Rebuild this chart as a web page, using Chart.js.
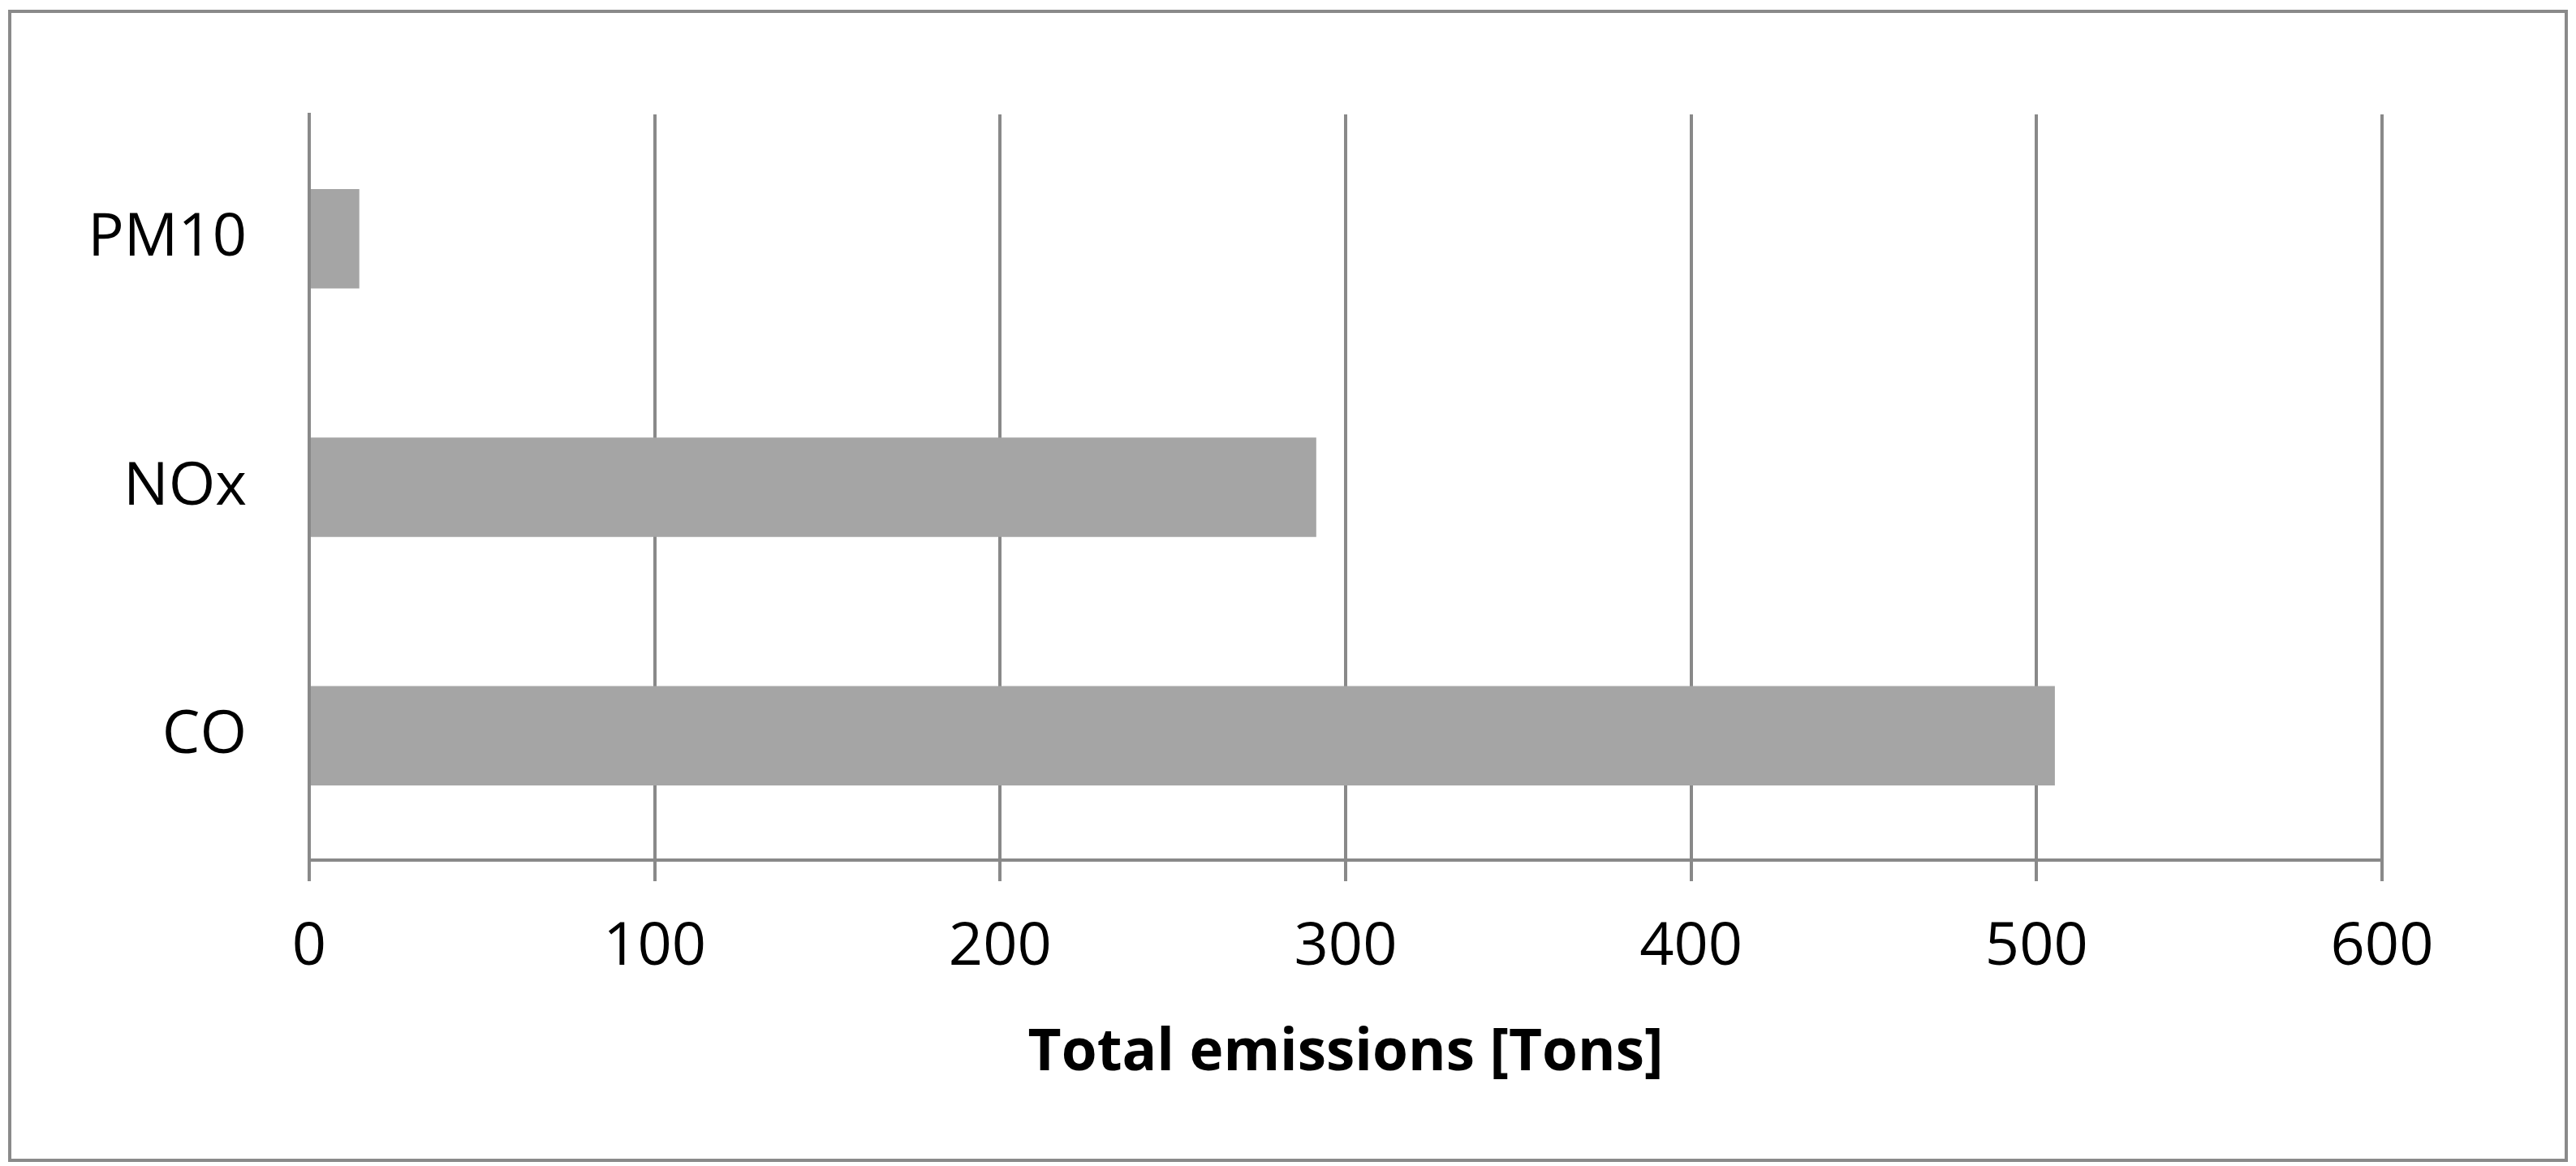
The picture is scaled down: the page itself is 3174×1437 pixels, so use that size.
<!DOCTYPE html>
<html>
<head>
<meta charset="utf-8">
<script src="https://cdn.jsdelivr.net/npm/chart.js@4/dist/chart.umd.min.js"></script>
<style>
  html, body { margin: 0; padding: 0; background: #fff; }
  #wrap { position: relative; width: 3174px; height: 1437px; }
  #frame { position: absolute; left: 10px; top: 12px; width: 3146px; height: 1412px; border: 4px solid #8a8a8a; }
  canvas { position: absolute; left: 0; top: 0; }
</style>
</head>
<body>
<div id="wrap">
  <div id="frame"></div>
  <canvas id="grafico" width="3174" height="1437"></canvas>
</div>
<script>
"use strict";

// Poluentes (de cima para baixo) e emissões totais em toneladas
const POLUENTES = ["PM10", "NOx", "CO"];
const EMISSOES = [14.5, 291.5, 505.3];
const EIXO_MIN = 0;
const EIXO_MAX = 600;
const EIXO_PASSO = 100;
const TITULO_X = "Total emissions [Tons]";

const CINZA_LINHA = "#898989";
const CINZA_BARRA = "#a5a5a5";
const FONTE = "'Open Sans', sans-serif";

new Chart(document.getElementById("grafico"), {
  type: "bar",
  data: {
    labels: POLUENTES,
    datasets: [{ data: EMISSOES, backgroundColor: CINZA_BARRA, borderWidth: 0,
      barPercentage: 0.4, categoryPercentage: 1 }],
  },
  options: {
    indexAxis: "y",
    responsive: false,
    animation: false,
    devicePixelRatio: 1,
    layout: { padding: { top: 141, right: 239, left: 0, bottom: 0 } },
    plugins: { legend: { display: false }, tooltip: { enabled: false } },
    scales: {
      x: {
        min: EIXO_MIN, max: EIXO_MAX,
        grid: { color: CINZA_LINHA, lineWidth: 4, tickLength: 26, drawTicks: true },
        border: { color: CINZA_LINHA, width: 4 },
        ticks: { stepSize: EIXO_PASSO, color: "#000", padding: 38, maxRotation: 0,
          font: { family: FONTE, size: 74 } },
        title: { display: true, text: TITULO_X, color: "#000",
          font: { family: FONTE, size: 71, weight: "bold" }, padding: { top: 0, bottom: 96 } },
        afterFit: (s) => { s.height = 377; },
      },
      y: {
        grid: { display: false, drawTicks: false },
        border: { color: CINZA_LINHA, width: 4 },
        ticks: { color: "#000", padding: 77, font: { family: FONTE, size: 74 } },
        afterFit: (s) => { s.width = 381; },
      },
    },
  },
});
</script>
</body>
</html>
